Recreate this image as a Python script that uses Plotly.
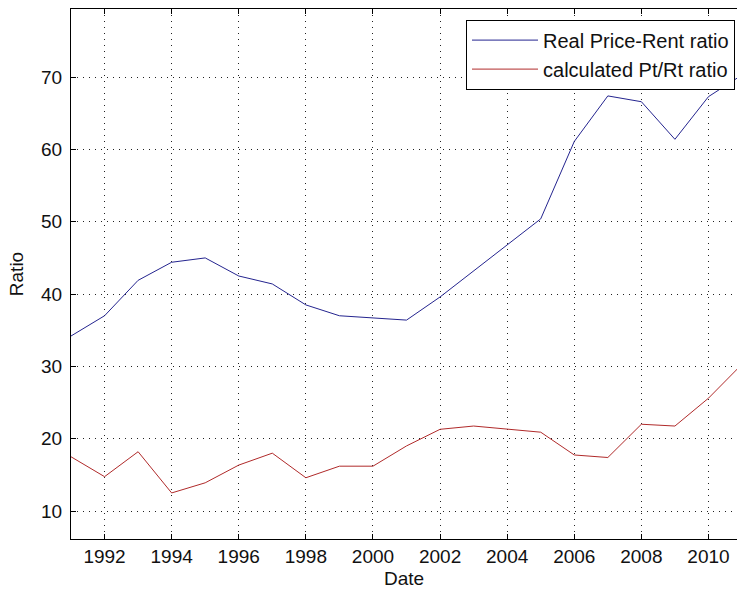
import plotly.graph_objects as go

years = list(range(1991, 2012))
real_price_rent = [34.2, 37.0, 41.9, 44.4, 45.0, 42.5, 41.4, 38.5, 37.0, 36.7,
                   36.4, 39.6, 43.2, 46.9, 50.4, 61.1, 67.4, 66.6, 61.4, 67.3, 70.3]
calc_pt_rt = [17.5, 14.75, 18.2, 12.5, 13.9, 16.35, 18.0, 14.6, 16.2, 16.2,
              19.0, 21.3, 21.75, 21.3, 20.9, 17.75, 17.4, 22.0, 21.75, 25.6, 30.3]
series_names = ["Real Price-Rent ratio", "calculated Pt/Rt ratio"]
series_colors = ["#24248f", "#b02a2a"]

FONT = "Liberation Sans, Arial, sans-serif"

fig = go.Figure()
for name, vals, col in zip(series_names, [real_price_rent, calc_pt_rt], series_colors):
    fig.add_trace(go.Scatter(x=years, y=vals, mode="lines", name=name,
                             line=dict(color=col, width=1)))

axis_common = dict(
    showline=True, linecolor="black", linewidth=1,
    ticks="inside", ticklen=5, tickcolor="black",
    showgrid=True, gridcolor="#222222", gridwidth=1, griddash="1px,5px",
    zeroline=False, automargin=False,
    tickfont=dict(family=FONT, size=19, color="#111111"),
)

fig.update_layout(
    width=737, height=594,
    margin=dict(l=71, r=0, t=9, b=55),
    paper_bgcolor="white", plot_bgcolor="white",
    font=dict(family=FONT, size=19, color="#111111"),
    xaxis=dict(range=[1991, 2010.85], tick0=1992, dtick=2, mirror="ticks",
               title=dict(text="Date", standoff=5,
                          font=dict(family=FONT, size=19, color="#111111")),
               ticklabelstandoff=0,
               **axis_common),
    yaxis=dict(range=[6.13, 79.42], tick0=10, dtick=10,
               title=dict(text="Ratio", standoff=12,
                          font=dict(family=FONT, size=19, color="#111111")),
               ticklabelstandoff=4,
               **axis_common),
    legend=dict(x=0.997, xanchor="right", y=0.98, yanchor="top",
                bgcolor="white", bordercolor="black", borderwidth=1,
                font=dict(family=FONT, size=20, color="#111111"),
                itemwidth=66, tracegroupgap=0),
    showlegend=True,
)

fig.write_html("out.html",
               config={"displayModeBar": False},
               post_script="document.body.style.margin='0';document.body.style.overflow='hidden';")
